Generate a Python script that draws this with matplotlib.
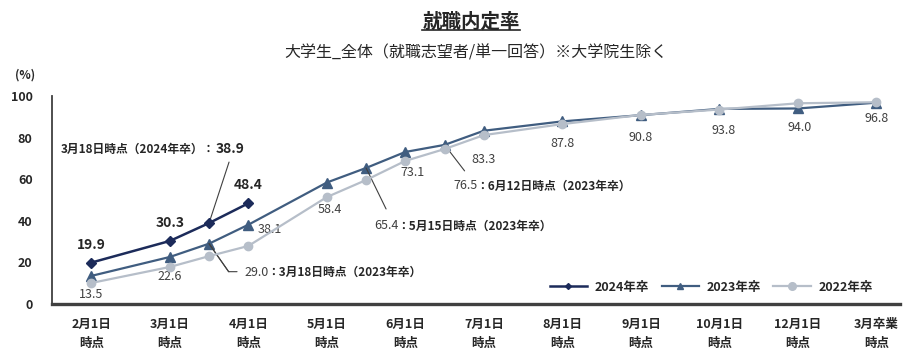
import numpy as np
import matplotlib.pyplot as plt
from matplotlib.lines import Line2D

plt.rcParams['font.family'] = ['Noto Sans CJK JP', 'DejaVu Sans']

# --------------------------- DATA ---------------------------
categories = ['2月1日\n時点', '3月1日\n時点', '4月1日\n時点', '5月1日\n時点', '6月1日\n時点',
              '7月1日\n時点', '8月1日\n時点', '9月1日\n時点', '10月1日\n時点', '12月1日\n時点',
              '3月卒業\n時点']

# x positions on the category axis (intermediate survey dates sit between two categories)
x_2024 = [0, 1, 1.5, 2]
y_2024 = [19.9, 30.3, 38.9, 48.4]

x_prev = [0, 1, 1.5, 2, 3, 3.5, 4, 4.5, 5, 6, 7, 8, 9, 10]
y_2023 = [13.5, 22.6, 29.0, 38.1, 58.4, 65.4, 73.1, 76.5, 83.3, 87.8, 90.8, 93.8, 94.0, 96.8]
y_2022 = [10.1, 17.8, 23.0, 27.9, 51.4, 59.6, 68.8, 74.5, 81.2, 86.5, 90.9, 93.5, 96.5, 97.0]

# --------------------------- STYLE ---------------------------
c_2024 = '#1c2b5a'
c_2023 = '#405d80'
c_2022 = '#b6bec9'
c_text = '#262626'

fig = plt.figure(figsize=(9.06, 3.6), dpi=100)
ax = fig.add_axes([52 / 906, 56 / 360, 848 / 906, 208 / 360])

ax.plot(x_prev, y_2023, color=c_2023, lw=1.6, marker='^', ms=6.5, zorder=3)
ax.plot(x_prev, y_2022, color=c_2022, lw=1.6, marker='o', ms=6, zorder=4)
ax.plot(x_2024, y_2024, color=c_2024, lw=1.8, marker='D', ms=5.5, zorder=5)

ax.set_xlim(-0.5, 10.3)
ax.set_ylim(0, 100)
ax.set_yticks(np.arange(0, 101, 20))
ax.set_xticks(range(len(categories)))
ax.set_xticklabels(categories, fontsize=9, fontweight='bold', color=c_text, linespacing=1.6)
ax.tick_params(axis='both', length=0)
ax.tick_params(axis='x', pad=10)
ax.tick_params(axis='y', pad=14)
for lab in ax.get_yticklabels():
    lab.set_fontsize(9)
    lab.set_fontweight('bold')
    lab.set_color(c_text)

for s in ['top', 'right']:
    ax.spines[s].set_visible(False)
ax.spines['left'].set_color('#404040')
ax.spines['left'].set_linewidth(1.3)
ax.spines['bottom'].set_color('#404040')
ax.spines['bottom'].set_linewidth(2.4)

# 2024 labels (bold, above), skipping the 3/18 point which has its own callout
for i in [0, 1, 3]:
    ax.annotate(f'{y_2024[i]:.1f}', (x_2024[i], y_2024[i]), xytext=(0, 18),
                textcoords='offset pixels', ha='center', va='center',
                fontsize=10, fontweight='bold', color=c_text)

# 2023 labels (below), intermediate dates get callouts instead
offsets_2023 = {0: (0, -19), 1: (0, -20), 3: (22, -5), 4: (3, -27), 6: (7, -21),
                8: (0, -29), 9: (0, -22), 10: (0, -22), 11: (4, -22), 12: (2, -19), 13: (0, -16)}
for i, off in offsets_2023.items():
    ax.annotate(f'{y_2023[i]:.1f}', (x_prev[i], y_2023[i]), xytext=off,
                textcoords='offset pixels', ha='center', va='center',
                fontsize=9, color='#404040')

# callout for 2024 3/18 point
line_kw = dict(arrowstyle='-', color='#404040', lw=0.8, shrinkA=0, shrinkB=0)
ax.annotate('', (x_2024[2], y_2024[2]), xytext=(20, 61), textcoords='offset pixels',
            arrowprops=line_kw)
ax.annotate('3月18日時点（2024年卒）：', (x_2024[2], y_2024[2]), xytext=(6, 74),
            textcoords='offset pixels', ha='right', va='center',
            fontsize=8.5, fontweight='bold', color=c_text)
ax.annotate(f'{y_2024[2]:.1f}', (x_2024[2], y_2024[2]), xytext=(7, 74),
            textcoords='offset pixels', ha='left', va='center',
            fontsize=10, fontweight='bold', color=c_text)

# callouts for 2023 intermediate points: (index, date text, line end, text offset, bold offset)
callouts = [(2, '3月18日時点（2023年卒）', (28, -28), (35, -29), (58, -29)),
            (5, '5月15日時点（2023年卒）', (20, -41), (8, -58), (31, -58)),
            (7, '6月12日時点（2023年卒）', (20, -26), (9, -41), (32, -41))]
for i, date_txt, end, t_off, b_off in callouts:
    pt = (x_prev[i], y_2023[i])
    if i == 2:
        ax.annotate('', pt, xytext=end, textcoords='offset pixels',
                    arrowprops=dict(line_kw, connectionstyle='angle,angleA=0,angleB=-55,rad=0'))
        ax.annotate('', pt, xytext=(end[0] - 8, end[1]), textcoords='offset pixels',
                    arrowprops=dict(line_kw, connectionstyle='angle,angleA=0,angleB=-55,rad=0'))
    else:
        ax.annotate('', pt, xytext=end, textcoords='offset pixels', arrowprops=line_kw)
    ax.annotate(f'{y_2023[i]:.1f}', pt, xytext=t_off, textcoords='offset pixels',
                ha='left', va='center', fontsize=9, color='#404040')
    ax.annotate('：' + date_txt, pt, xytext=b_off, textcoords='offset pixels',
                ha='left', va='center', fontsize=8.5, fontweight='bold', color=c_text)

# legend
handles = [Line2D([], [], color=c_2024, lw=1.8, marker='D', ms=3),
           Line2D([], [], color=c_2023, lw=1.6, marker='^', ms=4),
           Line2D([], [], color=c_2022, lw=1.6, marker='o', ms=5.5)]
leg = fig.legend(handles, ['2024年卒', '2023年卒', '2022年卒'], loc='center right',
                 bbox_to_anchor=(884 / 906, 1 - 287 / 360), ncol=3, frameon=False,
                 handlelength=3.0, columnspacing=1.0, handletextpad=0.6,
                 prop={'size': 9, 'weight': 'bold'})
for t in leg.get_texts():
    t.set_color(c_text)

# titles
title = fig.text(471 / 906, 1 - 22 / 360, '就職内定率', ha='center', va='center',
                 fontsize=14, fontweight='bold', color=c_text)
fig.text(476 / 906, 1 - 53 / 360, '大学生_全体（就職志望者/単一回答）※大学院生除く', ha='center',
         va='center', fontsize=11.5, color=c_text)
fig.text(25 / 906, 1 - 75 / 360, '(%)', ha='center', va='center', fontsize=8.5,
         fontweight='bold', color=c_text)

# underline the title
fig.canvas.draw()
bb = title.get_window_extent().transformed(fig.transFigure.inverted())
fig.add_artist(Line2D([bb.x0, bb.x1], [bb.y0 + 0.004, bb.y0 + 0.004], color=c_text, lw=1.2,
                      transform=fig.transFigure))

fig.savefig('out.png', dpi=100)
